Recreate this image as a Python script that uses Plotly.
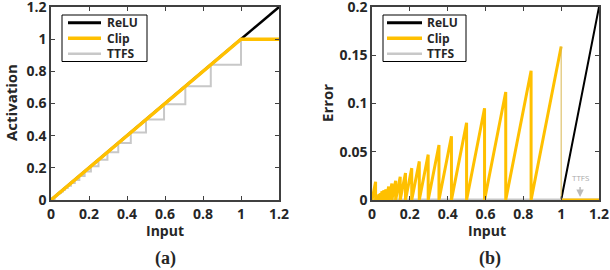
import plotly.graph_objects as go

# ---------------- data ----------------
series_names = ["ReLU", "Clip", "TTFS"]
series_colors = ["#000000", "#FFC000", "#C8C8C8"]

input_max = 1.2
clip_level = 1.0
# TTFS quantisation levels read from the staircase (descending)
ttfs_levels = [1.0, 0.841, 0.707, 0.595, 0.5, 0.42, 0.354, 0.297, 0.25, 0.21,
               0.177, 0.149, 0.125, 0.105, 0.088, 0.074, 0.063, 0.053, 0.044,
               0.037, 0.031, 0.026, 0.022, 0.019]

x_ticks = [0, 0.2, 0.4, 0.6, 0.8, 1.0, 1.2]
x_ticklabels = ["0", "0.2", "0.4", "0.6", "0.8", "1", "1.2"]
act_ticks = [0, 0.2, 0.4, 0.6, 0.8, 1.0, 1.2]
act_ticklabels = ["0", "0.2", "0.4", "0.6", "0.8", "1", "1.2"]
err_ticks = [0, 0.05, 0.1, 0.15, 0.2]
err_ticklabels = ["0", "0.05", "0.1", "0.15", "0.2"]

# ---------------- derived curves ----------------
asc = sorted(ttfs_levels)
# activation curves
relu_x, relu_y = [0, input_max], [0, input_max]
clip_x, clip_y = [0, clip_level, input_max], [0, clip_level, clip_level]
ttfs_x, ttfs_y = [0, asc[0]], [0, 0]
for i, L in enumerate(asc):
    nxt = asc[i + 1] if i + 1 < len(asc) else input_max
    ttfs_x += [L, nxt]
    ttfs_y += [L, L]

# error curves
relu_ex, relu_ey = [0, clip_level, input_max], [0, 0, input_max - clip_level]
saw_x, saw_y = [0], [0]
bases = [0] + asc[:-1]
for upper, base in zip(asc, bases):
    saw_x += [upper, upper]
    saw_y += [upper - base, 0]
last_peak = saw_y[-2]
saw_x = saw_x[:-1] + [None, clip_level, input_max]
saw_y = saw_y[:-1] + [None, 0, 0]
ttfs_ex, ttfs_ey = [0, input_max], [0, 0]

# ---------------- figure ----------------
W, H = 610, 270
def fx(p):
    return p / W
def fy(p):
    return 1 - p / H

TXT = "#262626"
FONT = "Open Sans"

fig = go.Figure()
# panel (a)
fig.add_trace(go.Scatter(x=relu_x, y=relu_y, mode="lines", name=series_names[0],
                         line=dict(color=series_colors[0], width=2.5), showlegend=False,
                         xaxis="x", yaxis="y"))
fig.add_trace(go.Scatter(x=ttfs_x, y=ttfs_y, mode="lines", name=series_names[2],
                         line=dict(color=series_colors[2], width=2), showlegend=False,
                         xaxis="x", yaxis="y"))
fig.add_trace(go.Scatter(x=clip_x, y=clip_y, mode="lines", name=series_names[1],
                         line=dict(color=series_colors[1], width=3.5), showlegend=False,
                         xaxis="x", yaxis="y"))
# panel (b)
fig.add_trace(go.Scatter(x=relu_ex, y=relu_ey, mode="lines", name=series_names[0],
                         line=dict(color=series_colors[0], width=2), showlegend=False,
                         xaxis="x2", yaxis="y2"))
fig.add_trace(go.Scatter(x=ttfs_ex, y=ttfs_ey, mode="lines", name=series_names[2],
                         line=dict(color=series_colors[2], width=3), showlegend=False,
                         xaxis="x2", yaxis="y2"))
fig.add_trace(go.Scatter(x=saw_x, y=saw_y, mode="lines", name=series_names[1],
                         line=dict(color=series_colors[1], width=3), showlegend=False,
                         connectgaps=False, xaxis="x2", yaxis="y2"))
fig.add_trace(go.Scatter(x=[clip_level, clip_level], y=[last_peak, 0], mode="lines",
                         name=series_names[1], line=dict(color="#D9B650", width=1),
                         showlegend=False, xaxis="x2", yaxis="y2"))

axis_common = dict(showline=True, linecolor="#404040", linewidth=1.5, mirror="ticks",
                   ticks="inside", ticklen=4, tickwidth=1, tickcolor="#404040",
                   showgrid=False, zeroline=False, ticklabeloverflow="allow",
                   automargin=False,
                   tickfont=dict(family=FONT, size=14, color=TXT, weight="bold"))

fig.update_layout(
    width=W, height=H, margin=dict(l=0, r=0, t=0, b=0),
    paper_bgcolor="white", plot_bgcolor="white",
    xaxis=dict(domain=[fx(51), fx(279)], range=[0, input_max], anchor="y",
               tickvals=x_ticks, ticktext=x_ticklabels, **axis_common),
    yaxis=dict(domain=[fy(200), fy(7)], range=[0, 1.2], anchor="x",
               tickvals=act_ticks, ticktext=act_ticklabels, **axis_common),
    xaxis2=dict(domain=[fx(372), fx(599)], range=[0, input_max], anchor="y2",
                tickvals=x_ticks, ticktext=x_ticklabels, **axis_common),
    yaxis2=dict(domain=[fy(200), fy(7)], range=[0, 0.2], anchor="x2",
                tickvals=err_ticks, ticktext=err_ticklabels, **axis_common),
)

def txt(text, x, y, size, angle=0, family=FONT, color=TXT, weight="bold", xanchor="center"):
    fig.add_annotation(text=text, x=x, y=y, xref="paper", yref="paper", showarrow=False,
                       textangle=angle, xanchor=xanchor, yanchor="middle", align="left",
                       font=dict(family=family, size=size, color=color, weight=weight))

# axis titles and panel labels
txt("Input", fx(165), fy(230), 14)
txt("Input", fx(487), fy(230), 14)
txt("Activation", fx(11), fy(103), 15, angle=-90)
txt("Error", fx(327), fy(103), 15, angle=-90)
txt("(a)", fx(165), fy(258), 18, family="Liberation Serif")
txt("(b)", fx(490), fy(258), 18, family="Liberation Serif")

# manual legends (one multi-line text block per legend)
legend_widths = [3, 3.5, 2.5]
LEG_FONT = 12
row_gap = LEG_FONT * 1.3
def legend(x0, x1, y0, y1, lx0, lx1, tx):
    fig.add_shape(type="rect", xref="paper", yref="paper", x0=fx(x0), x1=fx(x1),
                  y0=fy(y1), y1=fy(y0), line=dict(color="#000000", width=1),
                  fillcolor="white", layer="above")
    yc = (y0 + y1) / 2
    rows = [yc - row_gap, yc, yc + row_gap]
    for idx, r in enumerate(rows):
        fig.add_shape(type="line", xref="paper", yref="paper", x0=fx(lx0), x1=fx(lx1),
                      y0=fy(r), y1=fy(r), line=dict(color=series_colors[idx], width=legend_widths[idx]),
                      layer="above")
    txt("<br>".join(series_names), fx(tx), fy(yc), LEG_FONT, xanchor="left")

legend(62, 147, 15, 61.5, 68, 101, 105)
legend(383, 466, 15, 61.5, 387, 422, 425)

# TTFS annotation in panel (b)
fig.add_annotation(x=1.1, y=0.003, ax=1.1, ay=0.015, xref="x2", yref="y2",
                   axref="x2", ayref="y2", showarrow=True, arrowhead=2, arrowsize=1,
                   arrowwidth=1.5, arrowcolor="#BBBBBB", text="")
fig.add_annotation(x=1.1, y=0.023, xref="x2", yref="y2", text="TTFS", showarrow=False,
                   font=dict(family=FONT, size=8, color="#AAAAAA"))

fig.write_html("out.html", config={"displayModeBar": False},
               post_script="document.body.style.margin='0';")
